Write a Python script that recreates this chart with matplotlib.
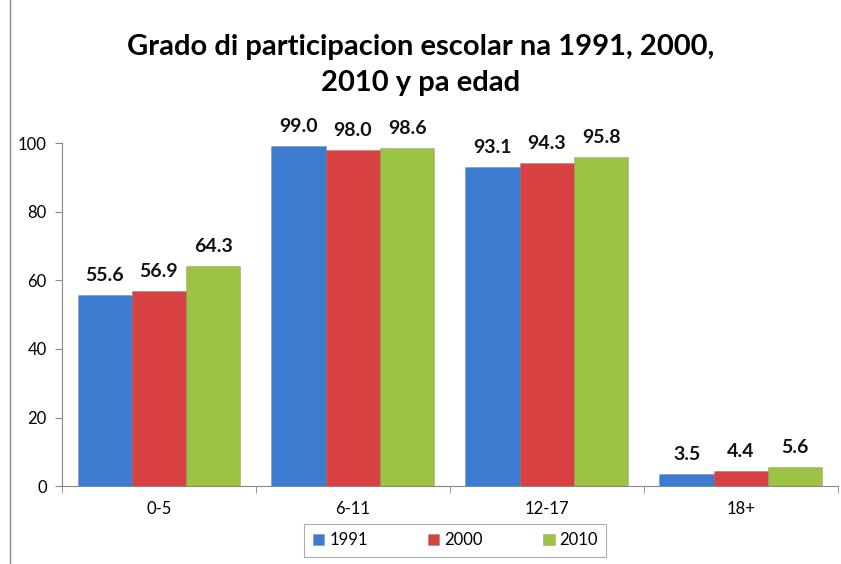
import matplotlib.pyplot as plt
import numpy as np
from matplotlib.lines import Line2D

categories = ["0-5", "6-11", "12-17", "18+"]
years = ["1991", "2000", "2010"]
v1991 = [55.6, 99.0, 93.1, 3.5]
v2000 = [56.9, 98.0, 94.3, 4.4]
v2010 = [64.3, 98.6, 95.8, 5.6]
colors = ["#3C7BCF", "#D84141", "#9CC343"]

plt.rcParams["font.family"] = ["Lato", "DejaVu Sans"]

fig = plt.figure(figsize=(8.41, 5.64), dpi=100)
ax = fig.add_axes([0.0737, 0.138, 0.9227, 0.6084])

x = np.arange(len(categories))
w = 0.28
for i, (vals, lab) in enumerate(zip([v1991, v2000, v2010], years)):
    pos = x + (i - 1) * w
    ax.bar(pos, vals, w, color=colors[i], label=lab,
           edgecolor="#55555544", linewidth=0.6)
    for xp, v in zip(pos, vals):
        ax.text(xp, v + 3.2, f"{v:.1f}", ha="center", va="bottom",
                fontsize=14, fontweight="bold", color="#111111")

ax.set_xlim(-0.5, len(categories) - 0.5)
ax.set_ylim(0, 100)
ax.set_yticks(range(0, 101, 20))
ax.set_xticks(x)
ax.set_xticklabels(categories)
ax.set_xticks(np.arange(-0.5, len(categories) + 0.5, 1), minor=True)
ax.tick_params(axis="x", which="major", length=0, pad=11, labelsize=12)
ax.tick_params(axis="x", which="minor", length=5, color="#888888")
ax.tick_params(axis="y", length=5, color="#888888", labelsize=12, pad=6)
for s in ["top", "right"]:
    ax.spines[s].set_visible(False)
for s in ["left", "bottom"]:
    ax.spines[s].set_color("#888888")

fig.text(0.5, 0.885, "Grado di participacion escolar na 1991, 2000,\n2010 y pa edad",
         ha="center", va="center", fontsize=21, fontweight="bold",
         linespacing=1.45)

leg = fig.legend(loc="center", bbox_to_anchor=(0.5415, 0.042), ncol=3,
                 fontsize=12, frameon=True, fancybox=False,
                 handlelength=0.7, handleheight=0.7, columnspacing=3.6,
                 borderpad=0.5, handletextpad=0.3, borderaxespad=0)
leg.get_frame().set_edgecolor("#999999")
leg.get_frame().set_linewidth(0.8)

fig.add_artist(Line2D([0.012, 0.012], [0, 1], color="#888888", linewidth=1,
                      transform=fig.transFigure))

fig.savefig("out.png", dpi=100)
